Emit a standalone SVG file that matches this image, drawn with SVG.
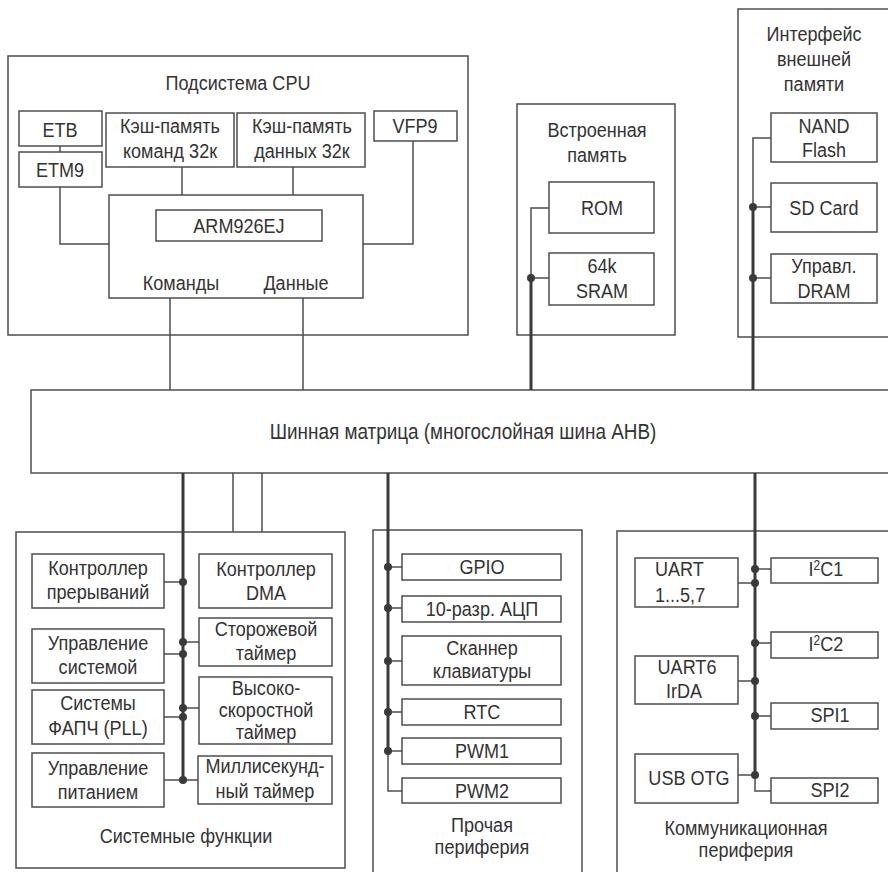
<svg xmlns="http://www.w3.org/2000/svg" width="888" height="872" viewBox="0 0 888 872">
<style>
.b{fill:#fff;stroke:#4d4d4d;stroke-width:1.5}
.t{font-family:"Liberation Sans",Arial,sans-serif;font-size:21px;fill:#333;text-anchor:middle;transform-box:fill-box;transform-origin:center;transform:scaleX(0.86)}
.s{text-anchor:start;transform-origin:left center}
.ln{fill:none;stroke:#4d4d4d;stroke-width:1.5}
.bus{fill:none;stroke:#3a3a3a;stroke-width:3}
.d{fill:#3a3a3a}
</style>
<rect width="888" height="872" fill="#fff"/>
<g id="cpu">
<rect class="b" x="8" y="56" width="460" height="279"/>
<text class="t" x="238" y="90">Подсистема CPU</text>
</g>
<g id="etb"><rect class="b" x="19" y="111" width="83" height="35"/><text class="t" x="60" y="137">ETB</text></g>
<g id="etm9"><rect class="b" x="19" y="152" width="83" height="35"/><text class="t" x="60" y="177">ETM9</text></g>
<g id="icache"><rect class="b" x="106" y="113" width="128" height="54"/><text class="t" x="170" y="133">Кэш-память</text><text class="t" x="170" y="158">команд 32к</text></g>
<g id="dcache"><rect class="b" x="237" y="113" width="128" height="54"/><text class="t" x="302" y="133">Кэш-память</text><text class="t" x="302" y="158">данных 32к</text></g>
<g id="vfp9"><rect class="b" x="374" y="111" width="83" height="30"/><text class="t" x="415" y="133">VFP9</text></g>
<g id="arm">
<rect class="b" x="109" y="195" width="254" height="103"/>
<rect class="b" x="156" y="210" width="166" height="31"/>
<text class="t" x="239" y="233">ARM926EJ</text>
<text class="t" x="181" y="290">Команды</text>
<text class="t" x="296" y="290">Данные</text>
</g>
<g id="intmem">
<rect class="b" x="517" y="104" width="158" height="231"/>
<text class="t" x="597" y="137">Встроенная</text>
<text class="t" x="597" y="162">память</text>
</g>
<g id="rom"><rect class="b" x="549" y="182" width="105" height="51"/><text class="t" x="602" y="215">ROM</text></g>
<g id="sram"><rect class="b" x="549" y="253" width="105" height="52"/><text class="t" x="602" y="273">64k</text><text class="t" x="602" y="298">SRAM</text></g>
<g id="extmem">
<rect class="b" x="738" y="9" width="170" height="328"/>
<text class="t" x="814" y="41">Интерфейс</text>
<text class="t" x="814" y="66">внешней</text>
<text class="t" x="814" y="91">памяти</text>
</g>
<g id="nand"><rect class="b" x="771" y="113" width="106" height="49"/><text class="t" x="824" y="133">NAND</text><text class="t" x="824" y="157">Flash</text></g>
<g id="sd"><rect class="b" x="771" y="183" width="106" height="49"/><text class="t" x="824" y="215">SD Card</text></g>
<g id="dram"><rect class="b" x="771" y="254" width="106" height="49"/><text class="t" x="824" y="273">Управл.</text><text class="t" x="824" y="298">DRAM</text></g>
<g id="ahb">
<rect class="b" x="31" y="390" width="880" height="83"/>
<text class="t" x="463" y="439" style="font-size:22px">Шинная матрица (многослойная шина AHB)</text>
</g>
<g id="sysfunc">
<rect class="b" x="16" y="532" width="329" height="336"/>
<text class="t" x="186" y="843">Системные функции</text>
</g>
<g id="irq"><rect class="b" x="32" y="554" width="132" height="54"/><text class="t" x="98" y="575">Контроллер</text><text class="t" x="98" y="599">прерываний</text></g>
<g id="sysctl"><rect class="b" x="32" y="629" width="132" height="54"/><text class="t" x="98" y="650">Управление</text><text class="t" x="98" y="674">системой</text></g>
<g id="pll"><rect class="b" x="32" y="690" width="132" height="54"/><text class="t" x="98" y="710">Системы</text><text class="t" x="98" y="735">ФАПЧ (PLL)</text></g>
<g id="pwr"><rect class="b" x="32" y="753" width="132" height="54"/><text class="t" x="98" y="775">Управление</text><text class="t" x="98" y="799">питанием</text></g>
<g id="dma"><rect class="b" x="199" y="554" width="133" height="54"/><text class="t" x="266" y="576">Контроллер</text><text class="t" x="266" y="600">DMA</text></g>
<g id="wdt"><rect class="b" x="199" y="618" width="133" height="48"/><text class="t" x="266" y="636">Сторожевой</text><text class="t" x="266" y="660">таймер</text></g>
<g id="hst"><rect class="b" x="199" y="677" width="133" height="67"/><text class="t" x="266" y="695">Высоко-</text><text class="t" x="266" y="717">скоростной</text><text class="t" x="266" y="739">таймер</text></g>
<g id="mst"><rect class="b" x="198" y="756" width="134" height="48"/><text class="t" x="265" y="773">Миллисекунд-</text><text class="t" x="265" y="798">ный таймер</text></g>
<g id="other">
<rect class="b" x="373" y="530" width="209" height="360"/>
<text class="t" x="482" y="832">Прочая</text>
<text class="t" x="482" y="854">периферия</text>
</g>
<g id="gpio"><rect class="b" x="402" y="554" width="159" height="26"/><text class="t" x="482" y="574">GPIO</text></g>
<g id="adc"><rect class="b" x="402" y="596" width="159" height="26"/><text class="t" x="482" y="616">10-разр. АЦП</text></g>
<g id="kbd"><rect class="b" x="402" y="636" width="159" height="49"/><text class="t" x="482" y="655">Сканнер</text><text class="t" x="482" y="678">клавиатуры</text></g>
<g id="rtc"><rect class="b" x="402" y="699" width="159" height="26"/><text class="t" x="482" y="719">RTC</text></g>
<g id="pwm1"><rect class="b" x="402" y="738" width="159" height="26"/><text class="t" x="482" y="758">PWM1</text></g>
<g id="pwm2"><rect class="b" x="402" y="778" width="159" height="25"/><text class="t" x="482" y="798">PWM2</text></g>
<g id="comm">
<rect class="b" x="617" y="531" width="290" height="360"/>
<text class="t" x="746" y="835">Коммуникационная</text>
<text class="t" x="746" y="857">периферия</text>
</g>
<g id="uart1"><rect class="b" x="635" y="558" width="103" height="49"/><text class="t s" x="655" y="576">UART</text><text class="t s" x="655" y="602">1...5,7</text></g>
<g id="uart6"><rect class="b" x="635" y="656" width="103" height="48"/><text class="t" x="687" y="674">UART6</text><text class="t" x="684" y="698">IrDA</text></g>
<g id="usb"><rect class="b" x="635" y="754" width="103" height="49"/><text class="t" x="689" y="785">USB OTG</text></g>
<g id="i2c1"><rect class="b" x="771" y="558" width="107" height="25"/><text class="t" x="826" y="576">I<tspan style="font-size:14px" dy="-6">2</tspan><tspan dy="6">C1</tspan></text></g>
<g id="i2c2"><rect class="b" x="771" y="632" width="107" height="26"/><text class="t" x="826" y="651">I<tspan style="font-size:14px" dy="-6">2</tspan><tspan dy="6">C2</tspan></text></g>
<g id="spi1"><rect class="b" x="771" y="703" width="107" height="26"/><text class="t" x="830" y="722">SPI1</text></g>
<g id="spi2"><rect class="b" x="771" y="778" width="107" height="25"/><text class="t" x="830" y="797">SPI2</text></g>
<g id="connectors">
<path class="ln" d="M60 146V152M60 187V244H109M413 141V244H363M182 167V195M293 167V195M170 298V390M303 298V390"/>
<path class="ln" d="M549 208H531V278H549M771 138H753V207H771M753 278H771"/>
<path class="bus" d="M531 278V390M753 207V390"/>
<path class="ln" d="M233 473V532M262 473V532M164 582H183M183 642H199M164 654H183M183 708H199M164 717H183M164 780H198"/>
<path class="bus" d="M183 473V780"/>
<path class="ln" d="M388 751V791H402M388 567H402M388 608H402M388 661H402M388 712H402M388 751H402"/>
<path class="bus" d="M388 473V751"/>
<path class="ln" d="M755 775V791H771M755 569H771M738 583H755M755 643H771M738 681H755M755 716H771M738 775H755"/>
<path class="bus" d="M755 473V775"/>
<g class="d">
<circle cx="531" cy="278" r="4"/><circle cx="753" cy="207" r="4"/><circle cx="753" cy="278" r="4"/>
<circle cx="183" cy="582" r="4"/><circle cx="183" cy="642" r="4"/><circle cx="183" cy="654" r="4"/><circle cx="183" cy="708" r="4"/><circle cx="183" cy="717" r="4"/><circle cx="183" cy="780" r="4"/>
<circle cx="388" cy="567" r="4"/><circle cx="388" cy="608" r="4"/><circle cx="388" cy="661" r="4"/><circle cx="388" cy="712" r="4"/><circle cx="388" cy="751" r="4"/>
<circle cx="755" cy="569" r="4"/><circle cx="755" cy="583" r="4"/><circle cx="755" cy="643" r="4"/><circle cx="755" cy="681" r="4"/><circle cx="755" cy="716" r="4"/><circle cx="755" cy="775" r="4"/>
</g>
</g>
</svg>
